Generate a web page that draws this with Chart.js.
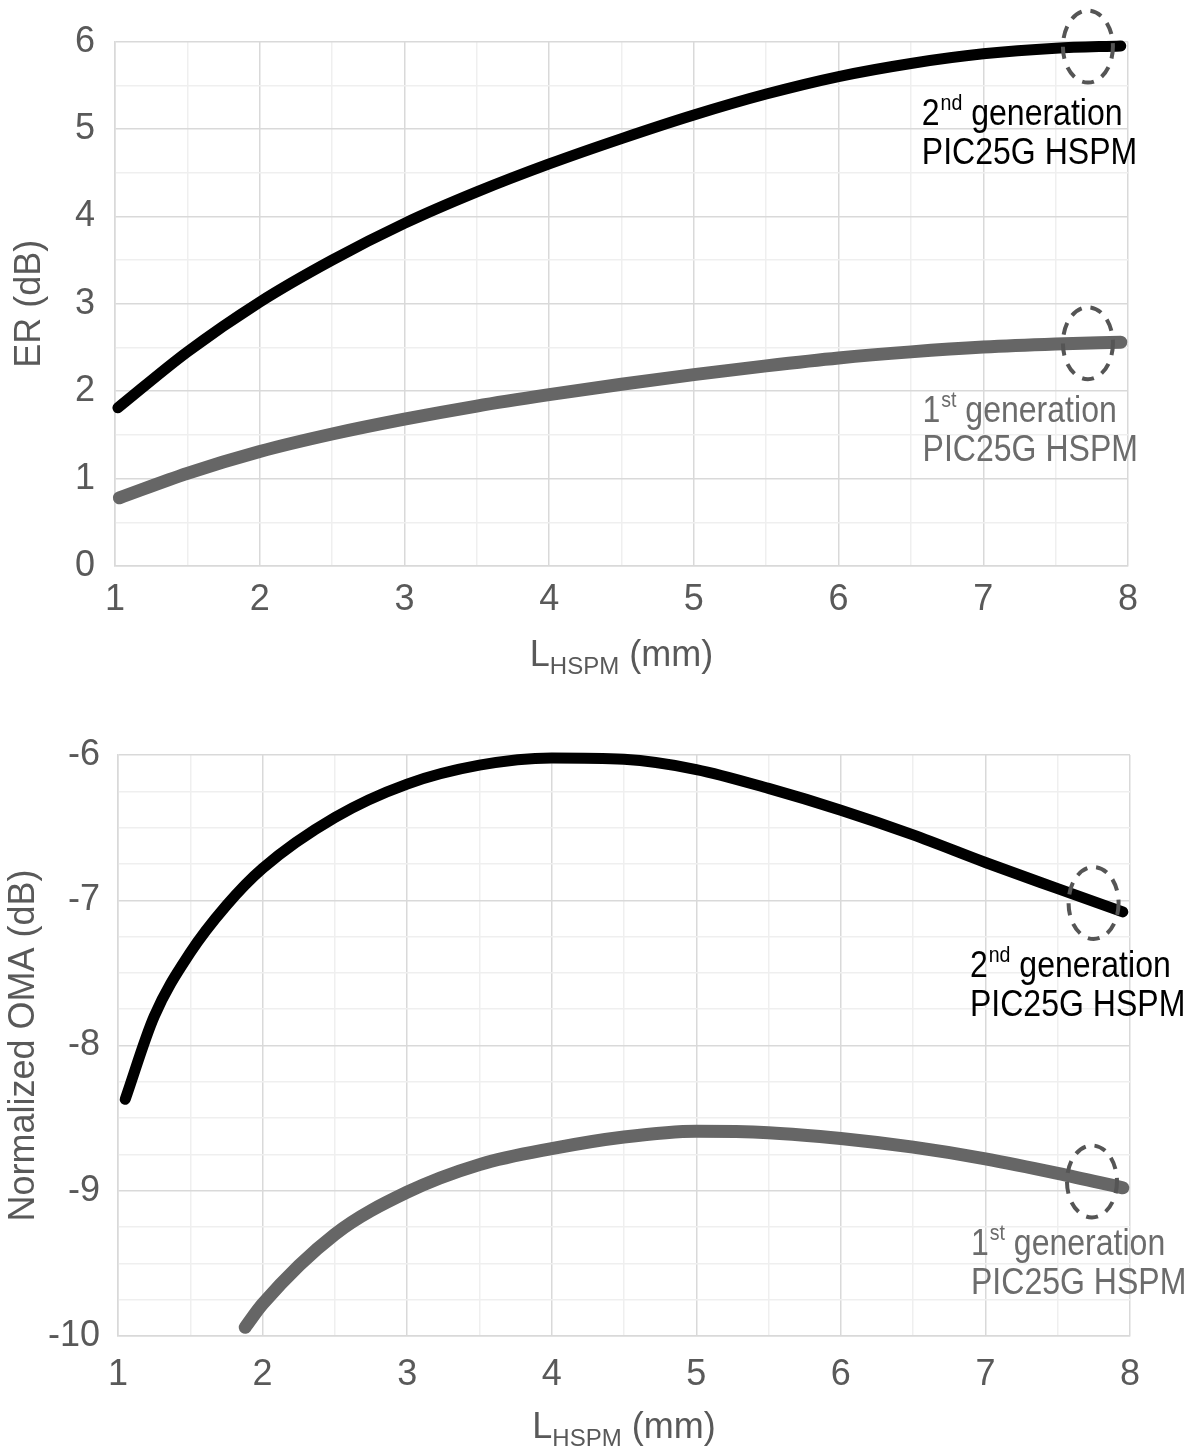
<!DOCTYPE html>
<html>
<head>
<meta charset="utf-8">
<script src="https://cdn.jsdelivr.net/npm/chart.js@4.4.1/dist/chart.umd.min.js"></script>
<style>
  html, body { margin: 0; padding: 0; background: #fff; }
  #erBox  { position: absolute; left: 0; top: 0;     width: 1194px; height: 710px; }
  #omaBox { position: absolute; left: 0; top: 710px; width: 1194px; height: 742px; }
</style>
</head>
<body>
<div id="erBox"><canvas id="erChart"></canvas></div>
<div id="omaBox"><canvas id="omaChart"></canvas></div>
<script>
// ---- Extinction ratio vs. phase-shifter length ----
const erLengthGen2 = [1.02, 1.5, 2, 2.5, 3, 3.5, 4, 4.5, 5, 5.5, 6, 6.5, 7, 7.5, 7.95];
const erGen2       = [1.81, 2.45, 3.02, 3.50, 3.92, 4.28, 4.60, 4.89, 5.16, 5.40, 5.60, 5.75, 5.86, 5.925, 5.95];
const erLengthGen1 = [1.03, 1.5, 2, 2.5, 3, 3.5, 4, 4.5, 5, 5.5, 6, 6.5, 7, 7.5, 7.95];
const erGen1       = [0.78, 1.06, 1.31, 1.51, 1.68, 1.83, 1.96, 2.08, 2.19, 2.29, 2.38, 2.45, 2.505, 2.54, 2.56];

// ---- Normalized OMA vs. phase-shifter length ----
const omaLengthGen2 = [1.05, 1.25, 1.5, 1.75, 2.0, 2.5, 3.0, 3.5, 4.0, 4.5, 5.0, 5.5, 6.0, 6.5, 7.0, 7.5, 7.95];
const omaGen2       = [-8.37, -7.80, -7.36, -7.035, -6.78, -6.43, -6.20, -6.07, -6.02, -6.03, -6.10, -6.23, -6.38, -6.55, -6.74, -6.92, -7.08];
const omaLengthGen1 = [1.88, 2.0, 2.5, 3.0, 3.5, 4.0, 4.5, 5.0, 5.5, 6.0, 6.5, 7.0, 7.5, 7.95];
const omaGen1       = [-9.94, -9.78, -9.30, -9.01, -8.82, -8.71, -8.63, -8.59, -8.60, -8.64, -8.70, -8.78, -8.88, -8.98];

// Axis ranges
const lengthRange = [1, 8];
const erRange = [0, 6];
const omaRange = [-10, -6];

// Curve captions (ordinal, superscript, rest of first line, second line)
const captionGen2 = ['2', 'nd', ' generation', 'PIC25G HSPM'];
const captionGen1 = ['1', 'st', ' generation', 'PIC25G HSPM'];

const FONT = "'Liberation Sans', Arial, sans-serif";
const AXIS_GREY = '#595959';
const GEN2_COLOR = '#000000';
const GEN1_COLOR = '#666666';
const GEN1_TEXT = '#6c6c6c';

function pts(xs, ys) { return xs.map((x, i) => ({ x: x, y: ys[i] })); }

function lineDataset(label, xs, ys, color, width) {
  return {
    label: label,
    data: pts(xs, ys),
    borderColor: color,
    backgroundColor: color,
    borderWidth: width,
    borderCapStyle: 'round',
    borderJoinStyle: 'round',
    pointRadius: 0,
    pointHoverRadius: 0,
    cubicInterpolationMode: 'monotone',
    fill: false,
    clip: false
  };
}

function gridColor(ctx) {
  const v = ctx.tick ? ctx.tick.value : 0;
  return Math.abs(v - Math.round(v)) < 1e-6 ? '#d9d9d9' : '#efefef';
}

function intLabel(v) {
  return Math.abs(v - Math.round(v)) < 1e-6 ? String(Math.round(v)) : '';
}

// Dashed rings, curve captions and axis titles
const decorations = {
  id: 'decorations',
  afterDatasetsDraw(chart, args, opts) {
    const c = chart.ctx;
    const xs = chart.scales.x, ys = chart.scales.y;
    (opts.rings || []).forEach(r => {
      c.save();
      c.setLineDash([12, 9]);
      c.lineWidth = 4;
      c.strokeStyle = '#555555';
      c.beginPath();
      c.ellipse(xs.getPixelForValue(r.x), ys.getPixelForValue(r.y), 25, 36, 0, 0, Math.PI * 2);
      c.stroke();
      c.restore();
    });
    (opts.captions || []).forEach(cap => {
      const px = xs.getPixelForValue(cap.x), py = ys.getPixelForValue(cap.y);
      c.save();
      c.translate(px, py);
      c.scale(0.89, 1);
      c.fillStyle = cap.color;
      c.textBaseline = 'alphabetic';
      c.textAlign = 'left';
      c.font = '36px ' + FONT;
      c.fillText(cap.text[0], 0, 0);
      let w = c.measureText(cap.text[0]).width + 1;
      c.font = '22px ' + FONT;
      c.fillText(cap.text[1], w, -15);
      w += c.measureText(cap.text[1]).width;
      c.font = '36px ' + FONT;
      c.fillText(cap.text[2], w, 0);
      c.fillText(cap.text[3], 0, 39);
      c.restore();
    });
  },
  afterDraw(chart, args, opts) {
    const c = chart.ctx, a = chart.chartArea;
    // y title, rotated
    c.save();
    c.fillStyle = AXIS_GREY;
    c.font = '36px ' + FONT;
    c.textAlign = 'center';
    c.textBaseline = 'middle';
    c.translate(opts.yTitleX, (a.top + a.bottom) / 2);
    c.rotate(-Math.PI / 2);
    c.fillText(opts.yTitle, 0, 0);
    c.restore();
    // x title: L with subscript HSPM
    c.save();
    c.fillStyle = AXIS_GREY;
    c.textBaseline = 'alphabetic';
    c.textAlign = 'left';
    const big = '36px ' + FONT, small = '24px ' + FONT;
    c.font = big;  const w1 = c.measureText('L').width;
    c.font = small; const w2 = c.measureText('HSPM').width;
    c.font = big;  const w3 = c.measureText(' (mm)').width;
    let x = (a.left + a.right) / 2 - (w1 + w2 + w3) / 2;
    const base = a.bottom + opts.xTitleGap;
    c.font = big;  c.fillText('L', x, base); x += w1;
    c.font = small; c.fillText('HSPM', x, base + 8); x += w2;
    c.font = big;  c.fillText(' (mm)', x, base);
    c.restore();
  }
};

function makeChart(id, cfg) {
  return new Chart(document.getElementById(id), {
    type: 'line',
    data: { datasets: cfg.datasets },
    options: {
      responsive: true,
      maintainAspectRatio: false,
      animation: false,
      devicePixelRatio: 1,
      layout: { padding: { top: cfg.padTop, right: cfg.padRight, left: 0, bottom: 0 } },
      plugins: {
        legend: { display: false },
        tooltip: { enabled: false },
        decorations: cfg.decor
      },
      scales: {
        x: {
          type: 'linear',
          min: lengthRange[0], max: lengthRange[1],
          afterFit(s) { s.height = cfg.xAxisHeight; },
          ticks: {
            stepSize: 0.5, autoSkip: false, maxRotation: 0,
            padding: cfg.xTickPad, color: AXIS_GREY,
            font: { family: FONT, size: 36 },
            callback: intLabel
          },
          grid: { color: gridColor, lineWidth: 1.5, drawTicks: false },
          border: { display: true, color: '#d9d9d9', width: 1.5 }
        },
        y: {
          type: 'linear',
          min: cfg.yRange[0], max: cfg.yRange[1],
          afterFit(s) { s.width = cfg.yAxisWidth; },
          ticks: {
            stepSize: cfg.yStep, autoSkip: false,
            padding: cfg.yTickPad, color: AXIS_GREY,
            font: { family: FONT, size: 36 },
            callback: intLabel
          },
          grid: { color: gridColor, lineWidth: 1.5, drawTicks: false },
          border: { display: true, color: '#d9d9d9', width: 1.5 }
        }
      }
    },
    plugins: [decorations]
  });
}

makeChart('erChart', {
  datasets: [
    lineDataset('1st generation PIC25G HSPM', erLengthGen1, erGen1, GEN1_COLOR, 13),
    lineDataset('2nd generation PIC25G HSPM', erLengthGen2, erGen2, GEN2_COLOR, 11)
  ],
  padTop: 41, padRight: 66,
  xAxisHeight: 144, yAxisWidth: 115,
  xTickPad: 12, yTickPad: 20,
  yRange: erRange, yStep: 0.5,
  decor: {
    rings: [{ x: 7.723, y: 5.943 }, { x: 7.723, y: 2.549 }],
    captions: [
      { x: 6.575, y: 5.05, color: GEN2_COLOR, text: captionGen2 },
      { x: 6.58, y: 1.65, color: GEN1_TEXT, text: captionGen1 }
    ],
    yTitle: 'ER (dB)', yTitleX: 30, xTitleGap: 100
  }
});

makeChart('omaChart', {
  datasets: [
    lineDataset('1st generation PIC25G HSPM', omaLengthGen1, omaGen1, GEN1_COLOR, 13),
    lineDataset('2nd generation PIC25G HSPM', omaLengthGen2, omaGen2, GEN2_COLOR, 11)
  ],
  padTop: 45, padRight: 64,
  xAxisHeight: 116, yAxisWidth: 118,
  xTickPad: 17, yTickPad: 18,
  yRange: omaRange, yStep: 0.25,
  decor: {
    rings: [{ x: 7.748, y: -7.019 }, { x: 7.737, y: -8.936 }],
    captions: [
      { x: 6.893, y: -7.526, color: GEN2_COLOR, text: captionGen2 },
      { x: 6.90, y: -9.442, color: GEN1_TEXT, text: captionGen1 }
    ],
    yTitle: 'Normalized OMA (dB)', yTitleX: 24, xTitleGap: 102
  }
});
</script>
</body>
</html>
